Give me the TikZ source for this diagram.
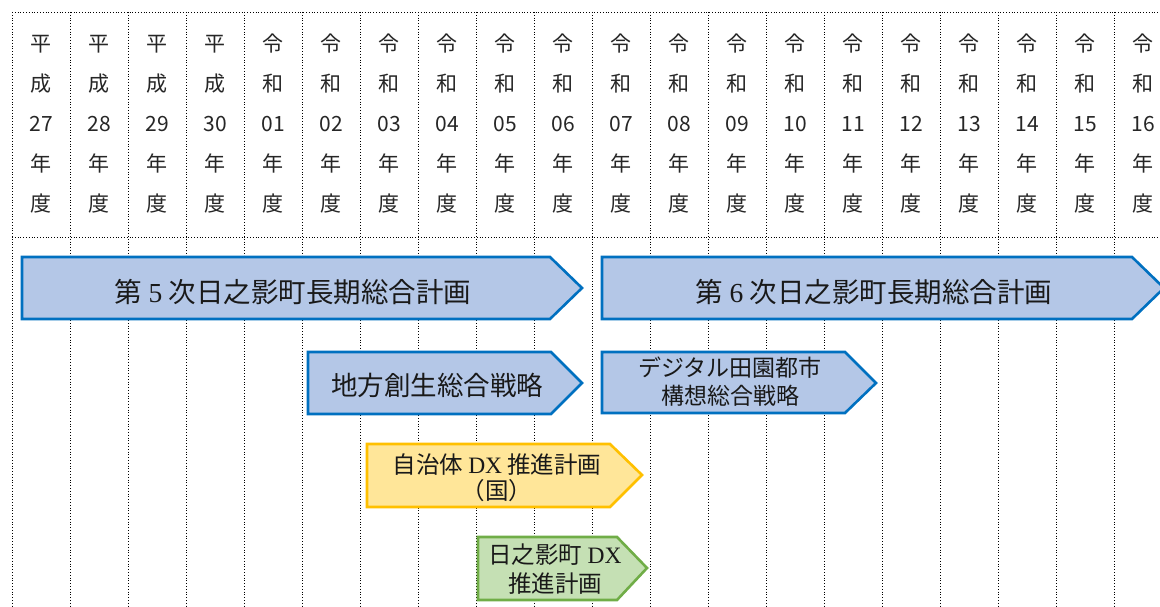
\documentclass[tikz,border=0pt]{standalone}
\usepackage{fontspec}
\newfontfamily\jp{Noto Sans CJK JP}
\newfontfamily\lat{Liberation Serif}
\definecolor{barblue}{HTML}{B4C7E7}
\definecolor{edgeblue}{HTML}{0070C0}
\definecolor{baryellow}{HTML}{FFE699}
\definecolor{edgeyellow}{HTML}{FFC000}
\definecolor{bargreen}{HTML}{C5E0B4}
\definecolor{edgegreen}{HTML}{70AD47}
\begin{document}
\begin{tikzpicture}[x=1pt,y=-1pt,
  gridline/.style={black, line width=0.8pt, dotted},
  hdr/.style={align=center, inner sep=0pt, font=\jp\fontsize{21}{40}\selectfont, text=black!85},
  barshape/.style={line width=2.6pt, line join=miter},
  bluebar/.style={barshape, fill=barblue, draw=edgeblue},
  yellowbar/.style={barshape, fill=baryellow, draw=edgeyellow},
  greenbar/.style={barshape, fill=bargreen, draw=edgegreen},
  bigtxt/.style={inner sep=0pt, font=\jp\fontsize{27.5}{30}\selectfont, text=black!90},
  midtxt/.style={inner sep=0pt, align=center, font=\jp\fontsize{26.5}{30}\selectfont, text=black!90},
  smalltxt/.style={inner sep=0pt, align=center, font=\jp\fontsize{23}{28}\selectfont, text=black!90}]
\useasboundingbox (0,0) rectangle (1160,607);
\fill[white] (0,0) rectangle (1160,607);
\begin{scope}
\clip (0,0) rectangle (1160,607);
% grid
\foreach \i in {0,...,20} \draw[gridline] (12+58*\i,12) -- (12+58*\i,607);
\draw[gridline] (12,12) -- (1160,12);
\draw[gridline] (12,237) -- (1160,237);
% headers
\foreach \a/\b/\n [count=\i from 0] in {平/成/27,平/成/28,平/成/29,平/成/30,令/和/01,令/和/02,令/和/03,令/和/04,令/和/05,令/和/06,令/和/07,令/和/08,令/和/09,令/和/10,令/和/11,令/和/12,令/和/13,令/和/14,令/和/15,令/和/16}
  \node[hdr] (h\i) at (41+58*\i,124) {\a\\\b\\\n\\年\\度};
% bars
\draw[bluebar] (22,257) -- (550,257) -- (582,288) -- (550,319) -- (22,319) -- cycle;
\node[bigtxt] (plan5) at (293,292) {第 {\lat 5} 次日之影町長期総合計画};
\draw[bluebar] (602,257) -- (1132,257) -- (1164,288) -- (1132,319) -- (602,319) -- cycle;
\node[bigtxt] (plan6) at (874,292) {第 {\lat 6} 次日之影町長期総合計画};
\draw[bluebar] (308,352) -- (551,352) -- (582,383) -- (551,414) -- (308,414) -- cycle;
\node[midtxt] (sousei) at (437,385) {地方創生総合戦略};
\draw[bluebar] (602,352) -- (845,352) -- (876,383) -- (845,413) -- (602,413) -- cycle;
\node[smalltxt] (digital) at (730,382) {デジタル田園都市\\構想総合戦略};
\draw[yellowbar] (367,444) -- (610,444) -- (642,475) -- (610,507) -- (367,507) -- cycle;
\node[smalltxt, font=\jp\fontsize{23.5}{26}\selectfont] (jichitai) at (497,478) {自治体 {\lat DX} 推進計画\\（国）};
\draw[greenbar] (478,537) -- (617,537) -- (647,568) -- (617,600) -- (478,600) -- cycle;
\node[smalltxt, font=\jp\fontsize{23.5}{29}\selectfont] (hinokage) at (555,569) {日之影町 {\lat DX}\\推進計画};
\end{scope}
\end{tikzpicture}
\end{document}
